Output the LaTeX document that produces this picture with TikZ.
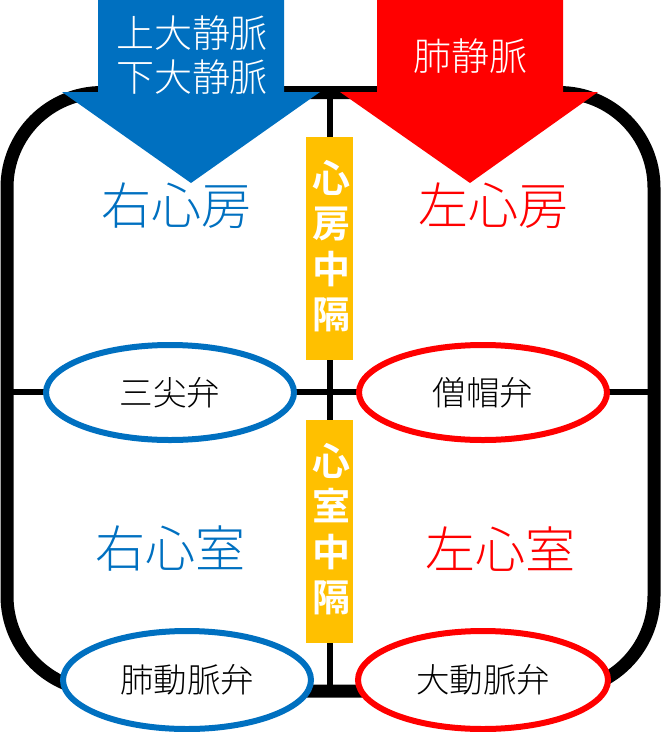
\documentclass[tikz,border=0pt]{standalone}
\usepackage{fontspec}
\setmainfont[UprightFont=* Light,BoldFont=* Bold]{Noto Sans CJK JP}
\usetikzlibrary{calc}
\usetikzlibrary{shapes.geometric}
\definecolor{rightblue}{HTML}{0070C0}
\definecolor{septumgold}{HTML}{FFC000}
\tikzset{
    wallline/.style={line width=13pt,rounded corners=95pt},
    thinline/.style={line width=6pt},
    valve/.style={ellipse,draw,fill=white,line width=6pt,inner sep=0pt,text=black,font=\fontsize{33.5}{33.5}\selectfont},
    chamber/.style={font=\fontsize{50}{50}\selectfont},
    vessel/.style={text=white,align=center,font=\fontsize{38}{44}\selectfont},
    septumbox/.style={fill=septumgold,minimum width=47pt,minimum height=223pt,inner sep=0pt},
    septumtext/.style={text=white,inner sep=0pt,align=center,font=\fontsize{38}{45.5}\selectfont\bfseries}
}
\begin{document}
\begin{tikzpicture}[x=1pt,y=-1pt]
            \useasboundingbox (0,0) rectangle (661,732);
            \coordinate (A) at (7,92.5);
            \coordinate (B) at (654,92.5);
            \coordinate (C) at (654,691);
            \coordinate (D) at (7,691);
            \draw[wallline] (A) -- (B) -- (C) -- (D) -- cycle;

            \coordinate (T) at (330,92);
            \coordinate (U) at (330,691);
            \coordinate (L) at (7,392);
            \coordinate (R) at (654,392);
            \draw[thinline] (T) -- (U);
            \draw[thinline] (L) -- (R);

            % veins
            \fill[rightblue] (98,0) -- (284,0) -- (284,92) -- (320,92) -- (191,183) -- (62,92) -- (98,92) -- cycle;
            \fill[red] (377,0) -- (563,0) -- (563,92) -- (598,92) -- (470,183) -- (340,92) -- (377,92) -- cycle;
            \node[vessel] (cava) at (192,55) {上大静脈\\下大静脈};
            \node[vessel] (pulmvein) at (470,56) {肺静脈};

            % chambers
            \node[chamber,text=rightblue] (ra) at (176.5,206) {右心房};
            \node[chamber,text=red] (la) at (493.5,206) {左心房};
            \node[chamber,text=rightblue] (rv) at (170.5,549) {右心室};
            \node[chamber,text=red] (lv) at (500,549) {左心室};

            % septa
            \node[septumbox] (asept) at (329.5,248.5) {};
            \node[septumbox] (vsept) at (329.5,531.5) {};
            \node[septumtext] (asepttext) at (331,246) {心\\房\\中\\隔};
            \node[septumtext] (vsepttext) at (331,529) {心\\室\\中\\隔};

            % valves
            \node[valve,draw=rightblue,minimum width=248pt,minimum height=95pt] (tricuspid) at (170,392.5) {三尖弁};
            \node[valve,draw=red,minimum width=248pt,minimum height=95pt] (mitral) at (483,392.5) {僧帽弁};
            \node[valve,draw=rightblue,minimum width=248pt,minimum height=98pt] (pulmvalve) at (187,680) {肺動脈弁};
            \node[valve,draw=red,minimum width=250pt,minimum height=98pt] (aortic) at (483,680) {大動脈弁};
\end{tikzpicture}
\end{document}
